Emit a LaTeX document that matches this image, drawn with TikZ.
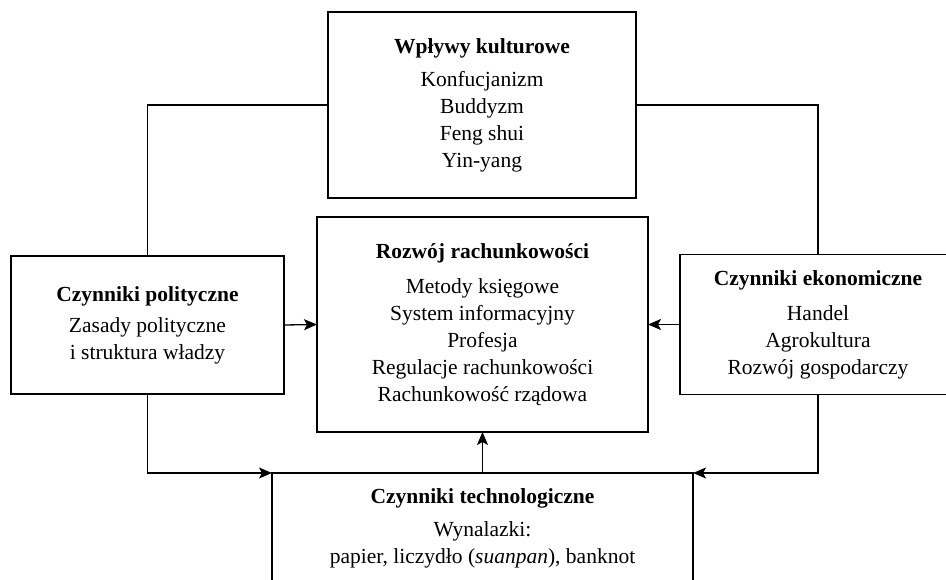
\documentclass[tikz,border=0pt]{standalone}
\usepackage{fontspec}
\setmainfont{Liberation Serif}
\usetikzlibrary{arrows.meta}
\begin{document}
\begin{tikzpicture}[x=1pt,y=-1pt,
  every node/.style={inner sep=0pt, outer sep=0pt},
  txt/.style={align=center, font=\fontsize{21.5}{27}\selectfont},
  box/.style={draw, line width=1.3pt, txt},
  connline/.style={draw, line width=1.3pt},
  connarrow/.style={connline, -{Stealth[length=13pt,width=11pt,inset=3pt]}}]
  \useasboundingbox (0,0) rectangle (946,580);
  \clip (0,0) rectangle (946,580);

  % boxes
  \node[box, minimum width=308, minimum height=186] (cult) at (482,105)
    {\textbf{Wpływy kulturowe}\\[6pt]Konfucjanizm\\Buddyzm\\Feng shui\\Yin-yang};
  \node[box, minimum width=331, minimum height=215] (dev) at (482.5,324.5)
    {\textbf{Rozwój rachunkowości}\\[8pt]Metody księgowe\\System informacyjny\\Profesja\\Regulacje rachunkowości\\Rachunkowość rządowa};
  \node[box, minimum width=273, minimum height=138] (pol) at (147.5,325)
    {\textbf{Czynniki polityczne}\\[4pt]Zasady polityczne\\i struktura władzy};
  \node[box, minimum width=276, minimum height=140] (eco) at (818,324.5)
    {\textbf{Czynniki ekonomiczne}\\[8pt]Handel\\Agrokultura\\Rozwój gospodarczy};

  % open-bottomed box for technology
  \node[minimum width=421, minimum height=214] (tech) at (482.5,580) {};
  \path[connline] (tech.south west) -- (tech.north west) -- (tech.north east) -- (tech.south east);
  \node[txt] (techtxt) at (482.5,528)
    {\textbf{Czynniki technologiczne}\\[6pt]Wynalazki:\\papier, liczydło (\textit{suanpan}), banknot};

  % connectors
  \path[connline] (cult.west) -| (pol.north);
  \path[connline] (cult.east) -| (eco.north);
  \path[connarrow] (pol.east) -- (dev.west);
  \path[connarrow] (eco.west) -- (dev.east);
  \path[connarrow] (pol.south) |- (tech.north west);
  \path[connarrow] (eco.south) |- (tech.north east);
  \path[connarrow] (dev.south |- tech.north) -- (dev.south);
\end{tikzpicture}
\end{document}
